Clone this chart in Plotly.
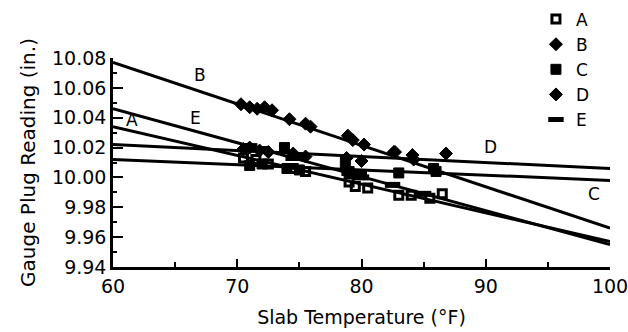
import plotly.graph_objects as go

# ---- data ----
series = ["A", "B", "C", "D", "E"]

# fitted lines: value at 60 F and at 100 F
line_x = [60, 100]
line_A = [10.034, 9.957]
line_B = [10.077, 9.966]
line_C = [10.012, 9.998]
line_D = [10.022, 10.006]
line_E = [10.046, 9.955]

A_x = [70.5, 71.5, 72.5, 74.5, 75.5, 79.0, 79.5, 80.5, 83.0, 84.0, 85.5, 86.5]
A_y = [10.013, 10.012, 10.009, 10.006, 10.004, 9.997, 9.994, 9.993, 9.988, 9.988, 9.986, 9.989]

B_x = [70.3, 71.0, 71.6, 72.2, 72.8, 74.2, 75.5, 75.9, 78.9, 79.3, 80.2, 82.6, 84.2]
B_y = [10.049, 10.047, 10.046, 10.047, 10.045, 10.039, 10.036, 10.034, 10.028, 10.025, 10.022, 10.017, 10.012]

C_x = [71.0, 72.0, 73.8, 74.0, 75.0, 78.7, 79.0, 80.0, 83.0, 85.8, 86.0]
C_y = [10.008, 10.009, 10.020, 10.006, 10.005, 10.010, 10.004, 10.002, 10.003, 10.006, 10.004]

D_x = [70.5, 71.0, 71.8, 72.5, 74.5, 75.5, 78.8, 80.0, 82.7, 84.1, 86.8]
D_y = [10.019, 10.020, 10.018, 10.017, 10.016, 10.014, 10.013, 10.011, 10.017, 10.015, 10.016]

E_x = [71.0, 72.0, 74.5, 79.0, 80.0, 82.5, 85.0]
E_y = [10.021, 10.019, 10.013, 10.003, 10.000, 9.995, 9.989]

x_ticks = [60, 70, 80, 90, 100]
y_ticks = [9.94, 9.96, 9.98, 10.00, 10.02, 10.04, 10.06, 10.08]
y_tick_labels = ["9.94", "9.96", "9.98", "10.00", "10.02", "10.04", "10.06", "10.08"]

FONT = "DejaVu Sans"
BLACK = "black"

markers = {
    "A": dict(symbol="square-open", size=8, color=BLACK, line=dict(color=BLACK, width=3)),
    "B": dict(symbol="diamond", size=10, color=BLACK, line=dict(color=BLACK, width=1)),
    "C": dict(symbol="square", size=10, color=BLACK, line=dict(color=BLACK, width=1)),
    "D": dict(symbol="diamond", size=10, color=BLACK, line=dict(color=BLACK, width=1)),
    "E": dict(symbol="line-ew", size=11, color=BLACK, line=dict(color=BLACK, width=6)),
}
pts = {"A": (A_x, A_y), "B": (B_x, B_y), "C": (C_x, C_y), "D": (D_x, D_y), "E": (E_x, E_y)}
lines = {"A": line_A, "B": line_B, "C": line_C, "D": line_D, "E": line_E}

fig = go.Figure()
for s in series:
    fig.add_trace(go.Scatter(x=line_x, y=lines[s], mode="lines",
                             line=dict(color=BLACK, width=3), showlegend=False,
                             hoverinfo="skip", cliponaxis=False))
for s in series:
    x, y = pts[s]
    fig.add_trace(go.Scatter(x=x, y=y, mode="markers", name=s, marker=markers[s]))

# line labels
labels = [("B", 67.0, 10.0686), ("E", 66.6, 10.0398), ("A", 61.5, 10.0385),
          ("D", 90.4, 10.0204), ("C", 98.7, 9.9890)]
for t, lx, ly in labels:
    fig.add_annotation(x=lx, y=ly, text=t, showarrow=False,
                       font=dict(family=FONT, size=17, color=BLACK))
fig.add_annotation(x=80.9, y=10.082, text="Transverse Movement", showarrow=False,
                   font=dict(family=FONT, size=15, color=BLACK))

fig.update_layout(
    width=628, height=332,
    margin=dict(l=113, r=18, t=58, b=65, autoexpand=False),
    paper_bgcolor="white", plot_bgcolor="white",
    font=dict(family=FONT, size=19, color=BLACK),
    legend=dict(x=0.851, y=1.27, xanchor="left", yanchor="top",
                font=dict(family=FONT, size=17, color=BLACK),
                bgcolor="rgba(0,0,0,0)", tracegroupgap=0, itemwidth=30),
    xaxis=dict(range=[60, 100], tickvals=x_ticks, ticks="inside", ticklen=8, tickwidth=2,
               tickcolor=BLACK, showline=True, linecolor=BLACK, linewidth=2.5,
               showgrid=False, zeroline=False, ticklabeloverflow="allow",
               minor=dict(dtick=5, ticks="inside", ticklen=5, tickwidth=2, tickcolor=BLACK, showgrid=False),
               title=dict(text="Slab Temperature (°F)", font=dict(family=FONT, size=19), standoff=16),
               tickfont=dict(family=FONT, size=19)),
    yaxis=dict(range=[9.94, 10.08], tickvals=y_ticks, ticktext=y_tick_labels,
               ticks="inside", ticklen=10, tickwidth=2,
               tickcolor=BLACK, showline=True, linecolor=BLACK, linewidth=2.5,
               showgrid=False, zeroline=False,
               minor=dict(dtick=0.01, ticks="inside", ticklen=4, tickwidth=2, tickcolor=BLACK, showgrid=False),
               title=dict(text="Gauge Plug Reading (in.)", font=dict(family=FONT, size=20), standoff=12),
               tickfont=dict(family=FONT, size=19)),
)

fig.write_html("out.html")
